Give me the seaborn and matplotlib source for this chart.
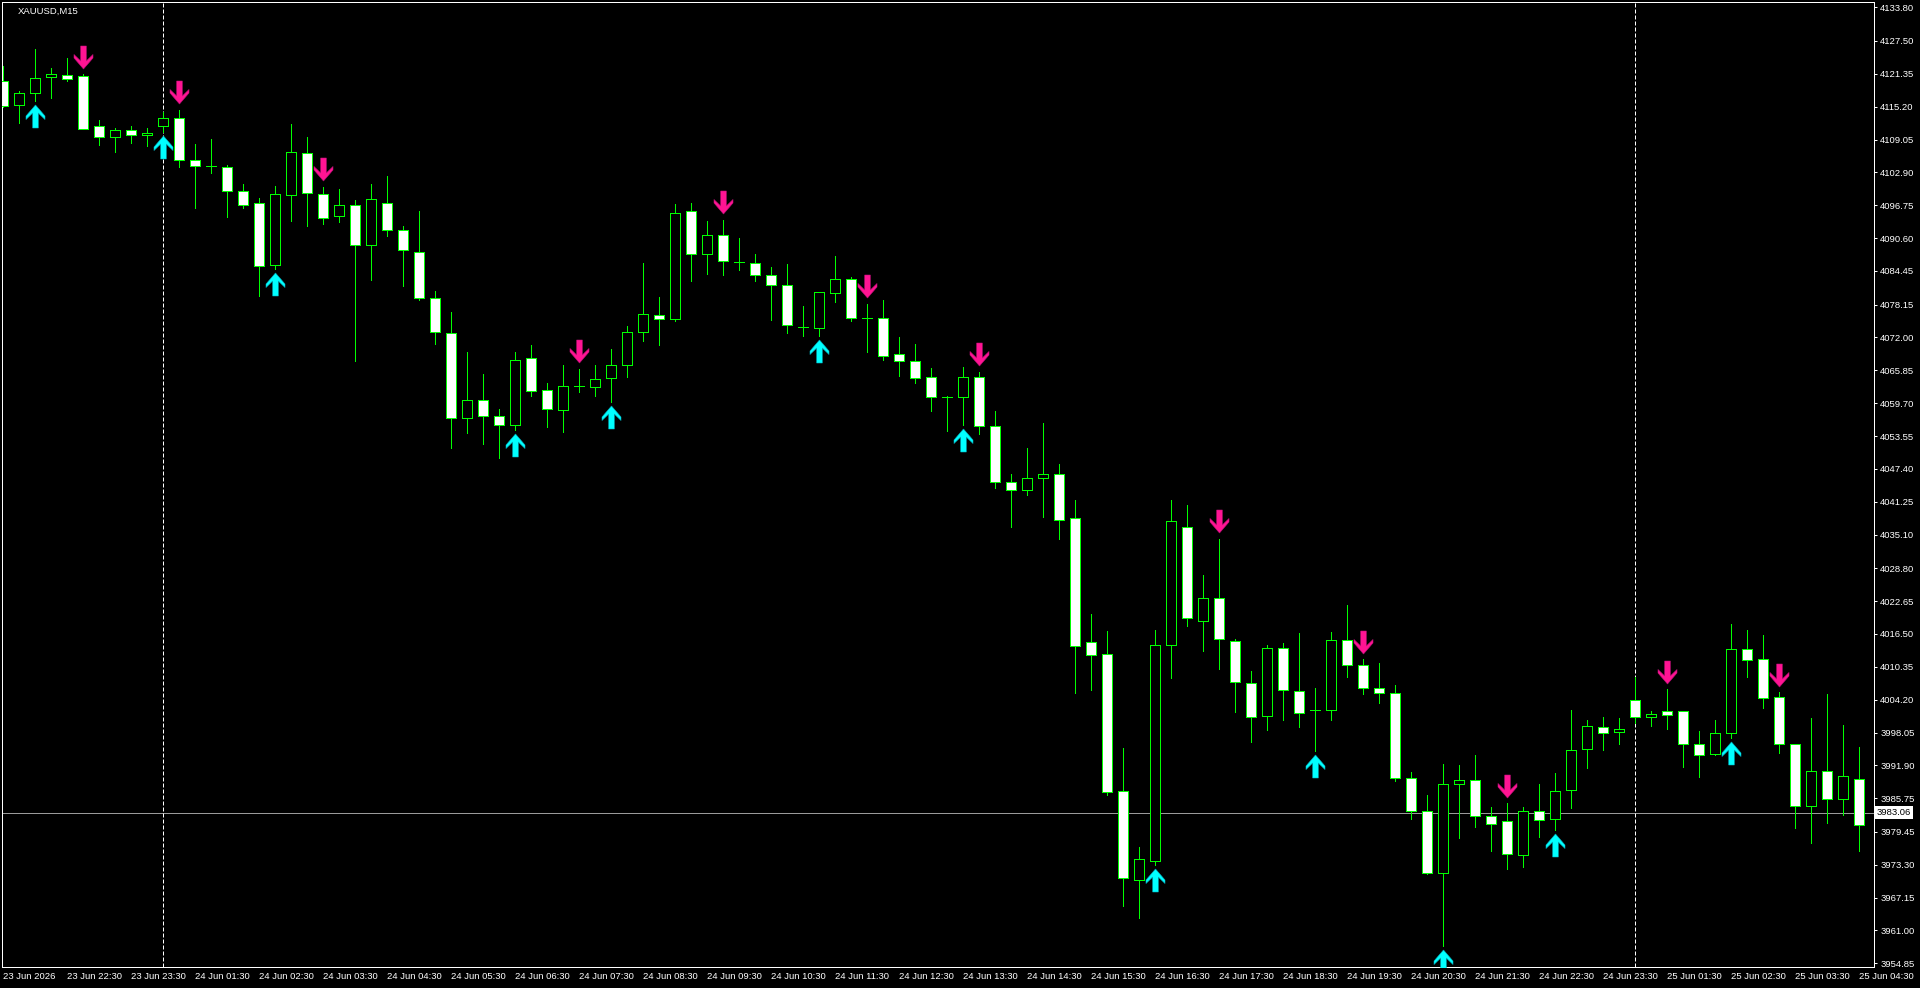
import numpy as np
import pandas as pd
import matplotlib
matplotlib.use("Agg")
import matplotlib.pyplot as plt
from matplotlib.path import Path
import seaborn as sns

SYMBOL = "XAUUSD,M15"

# M15 sessions shown (no quotes between 00:00 and 01:00)
sessions = [("2026-06-23 21:30", "2026-06-23 23:45"),
            ("2026-06-24 01:00", "2026-06-24 23:45"),
            ("2026-06-25 01:00", "2026-06-25 04:30")]

opens = [4119.99, 4115.56, 4117.81, 4120.81, 4121.18, 4121.00, 4111.56, 4109.56, 4110.87, 4109.94,
         4111.62, 4113.12, 4105.25, 4104.13, 4103.94, 4099.44, 4097.19, 4085.57, 4098.69, 4106.56,
         4098.88, 4094.76, 4096.82, 4089.33, 4097.20, 4092.14, 4088.02, 4079.39, 4072.83, 4056.91,
         4060.28, 4057.28, 4055.59, 4068.15, 4062.15, 4058.40, 4062.90, 4062.71, 4064.40, 4066.84,
         4072.96, 4076.14, 4075.45, 4095.70, 4087.64, 4091.20, 4086.07, 4085.95, 4083.70, 4081.83,
         4073.96, 4073.77, 4080.33, 4082.95, 4075.58, 4075.64, 4068.90, 4067.58, 4064.59, 4060.78,
         4060.79, 4064.54, 4055.41, 4044.85, 4043.42, 4045.67, 4046.42, 4038.17, 4014.93, 4012.68,
         3987.13, 3970.50, 3974.04, 4014.52, 4036.60, 4018.95, 4023.31, 4015.27, 4007.37, 4001.06,
         4013.80, 4005.74, 4002.24, 4002.18, 4015.30, 4010.61, 4006.30, 4005.37, 3989.62, 3983.44,
         3971.76, 3988.50, 3989.25, 3982.50, 3981.56, 3975.19, 3983.44, 3981.94, 3987.37, 3994.99,
         3998.99, 3998.24, 4004.05, 4000.87, 4001.99, 4001.99, 3995.99, 3994.06, 3997.87, 4013.61,
         4011.73, 4004.61, 3995.81, 3984.37, 3990.93, 3985.68, 3989.43]
highs = [4122.74, 4118.06, 4126.05, 4122.49, 4124.37, 4121.24, 4112.75, 4111.25, 4111.62, 4111.25,
         4114.18, 4114.62, 4108.13, 4109.06, 4104.19, 4100.63, 4098.19, 4100.44, 4111.87, 4109.44,
         4100.25, 4099.70, 4097.76, 4100.63, 4102.13, 4092.89, 4095.76, 4080.77, 4076.83, 4069.34,
         4065.21, 4058.65, 4069.34, 4070.65, 4063.46, 4066.90, 4066.15, 4066.90, 4069.84, 4074.15,
         4086.01, 4079.64, 4097.07, 4097.26, 4093.82, 4094.01, 4090.64, 4087.64, 4085.20, 4085.76,
         4077.89, 4080.52, 4087.26, 4083.33, 4078.27, 4079.02, 4072.08, 4070.77, 4066.27, 4061.00,
         4066.50, 4065.57, 4058.27, 4046.48, 4051.32, 4056.02, 4048.32, 4041.58, 4020.25, 4017.04,
         3995.10, 3976.56, 4017.25, 4041.58, 4040.62, 4027.47, 4034.29, 4015.48, 4009.62, 4014.42,
         4014.74, 4016.61, 4006.30, 4016.80, 4021.86, 4011.74, 4011.05, 4006.93, 3990.62, 3986.44,
         3992.25, 3992.06, 3993.81, 3984.06, 3984.81, 3984.06, 3988.37, 3990.44, 4002.24, 4000.37,
         4000.93, 4000.74, 4008.42, 4002.05, 4006.18, 4001.99, 3998.30, 4000.37, 4018.36, 4017.23,
         4016.30, 4005.55, 3995.81, 4000.74, 4005.18, 3999.43, 3995.31]
lows = [4115.20, 4112.12, 4116.25, 4116.81, 4119.99, 4111.00, 4108.00, 4106.69, 4108.38, 4107.81,
        4110.44, 4103.88, 4096.19, 4102.75, 4094.51, 4096.19, 4079.83, 4084.76, 4093.76, 4092.82,
        4093.26, 4093.57, 4067.52, 4082.71, 4090.95, 4081.58, 4078.96, 4070.71, 4051.22, 4054.03,
        4051.97, 4049.35, 4054.66, 4061.09, 4055.16, 4054.22, 4061.72, 4061.09, 4059.84, 4064.53,
        4071.27, 4070.52, 4075.14, 4082.51, 4083.83, 4083.64, 4084.58, 4082.51, 4075.21, 4072.77,
        4072.21, 4072.27, 4078.58, 4075.08, 4069.21, 4067.77, 4064.71, 4063.46, 4058.21, 4054.40,
        4055.68, 4053.84, 4043.89, 4036.60, 4042.60, 4038.31, 4034.35, 4005.46, 4006.00, 3986.38,
        3965.52, 3963.27, 3973.22, 4008.18, 4018.07, 4013.36, 4009.96, 4001.91, 3996.26, 3998.56,
        4000.31, 3999.12, 3994.68, 4000.43, 4008.49, 4005.30, 4003.62, 3989.06, 3981.94, 3971.57,
        3958.01, 3978.32, 3980.38, 3975.88, 3972.51, 3972.88, 3978.51, 3979.88, 3983.94, 3991.43,
        3994.81, 3995.93, 3999.87, 3999.30, 3998.74, 3991.62, 3989.75, 3993.80, 3997.06, 4008.49,
        4002.68, 3994.24, 3980.19, 3977.38, 3981.13, 3982.69, 3975.94]
closes = [4115.37, 4117.81, 4120.62, 4121.37, 4120.43, 4111.06, 4109.56, 4110.87, 4109.94, 4110.31,
          4113.12, 4105.25, 4104.13, 4104.13, 4099.44, 4096.82, 4085.39, 4098.88, 4106.75, 4099.07,
          4094.38, 4096.82, 4089.33, 4097.95, 4092.14, 4088.39, 4079.39, 4073.02, 4056.91, 4060.28,
          4057.28, 4055.59, 4067.78, 4061.96, 4058.59, 4062.90, 4062.90, 4064.21, 4066.84, 4073.02,
          4076.39, 4075.45, 4095.32, 4087.64, 4091.20, 4086.32, 4086.07, 4083.70, 4081.83, 4074.33,
          4073.96, 4080.52, 4082.95, 4075.64, 4075.58, 4068.52, 4067.58, 4064.40, 4060.84, 4060.78,
          4064.54, 4055.34, 4044.92, 4043.42, 4045.67, 4046.42, 4037.76, 4014.32, 4012.48, 3986.92,
          3970.84, 3974.38, 4014.52, 4037.56, 4019.43, 4023.31, 4015.48, 4007.43, 4001.03, 4013.80,
          4005.93, 4001.62, 4002.24, 4015.30, 4010.61, 4006.30, 4005.37, 3989.62, 3983.44, 3971.76,
          3988.50, 3989.25, 3982.50, 3981.00, 3975.38, 3983.44, 3981.75, 3987.19, 3994.87, 3999.18,
          3998.05, 3998.62, 4000.87, 4001.43, 4001.24, 3995.99, 3993.93, 3997.87, 4013.61, 4011.55,
          4004.43, 3995.81, 3984.37, 3990.93, 3985.68, 3990.00, 3980.81]

# indicator signals (bar numbers from the left)
sell_bars = [5, 11, 20, 36, 45, 54, 61, 76, 85, 94, 104, 111]
buy_bars = [2, 10, 17, 32, 38, 51, 60, 72, 82, 90, 97, 108]

price_ticks = [4133.80, 4127.50, 4121.35, 4115.20, 4109.05, 4102.90, 4096.75, 4090.60, 4084.45,
               4078.15, 4072.00, 4065.85, 4059.70, 4053.55, 4047.40, 4041.25, 4035.10, 4028.80,
               4022.65, 4016.50, 4010.35, 4004.20, 3998.05, 3991.90, 3985.75, 3979.45, 3973.30,
               3967.15, 3961.00, 3954.85]
bid_price = 3983.06

GREEN = "#00FF00"
PINK = "#FF1493"
CYAN = "#00FFFF"

times = pd.DatetimeIndex([t for s, e in sessions for t in pd.date_range(s, e, freq="15min")])
df = pd.DataFrame({"time": times, "open": opens, "high": highs, "low": lows, "close": closes})
df["bar"] = np.arange(len(df))

sns.set_style("dark", {"axes.facecolor": "black", "figure.facecolor": "black",
                       "axes.edgecolor": "white", "axes.grid": False})
plt.rcParams["font.family"] = ["Liberation Sans", "DejaVu Sans"]

W, H = 1920, 988
fig = plt.figure(figsize=(W / 100, H / 100), dpi=100)
ax = fig.add_axes([2 / W, 21 / H, 1872 / W, 965 / H])
ax.set_xlim(-0.0625, 116.94)
ax.set_ylim(3954.16, 4134.79)

# bid line
ax.axhline(bid_price, color="#9A9A9A", lw=0.72, zorder=1)

# day separators
new_day = df.time.dt.date != df.time.dt.date.shift()
for b in df.bar[new_day].iloc[1:]:
    ax.axvline(b, color="white", lw=0.72, ls=(0, (4, 2)), zorder=1)

# candles
ax.vlines(df.bar, df.low, df.high, color=GREEN, lw=0.72, zorder=2, antialiased=False)
body_bottom = np.minimum(df.open, df.close)
body_height = (df.close - df.open).abs()
fill = np.where(df.close > df.open, "black", "white")
ax.bar(df.bar, body_height, bottom=body_bottom, width=0.6, color=fill,
       edgecolor=GREEN, linewidth=0.72, zorder=3, antialiased=False)

# signal arrows
up_verts = [(0, 11.5), (9.5, 0.5), (9.5, -3.0), (2.8, 3.5), (2.8, -11.5),
            (-2.8, -11.5), (-2.8, 3.5), (-9.5, -3.0), (-9.5, 0.5), (0, 11.5)]
codes = [Path.MOVETO] + [Path.LINETO] * 8 + [Path.CLOSEPOLY]
up_arrow = Path(up_verts, codes)
down_arrow = Path([(x, -y) for x, y in up_verts], codes)

px = (ax.get_ylim()[1] - ax.get_ylim()[0]) / 965
sells = df.iloc[sell_bars]
buys = df.iloc[buy_bars]
sns.scatterplot(x=sells.bar, y=sells.high + 17.5 * px, marker=down_arrow, s=(23 * 0.72) ** 2,
                color=PINK, edgecolor="#C0107A", linewidth=0.4, zorder=4, ax=ax, legend=False)
sns.scatterplot(x=buys.bar, y=buys.low - 15 * px, marker=up_arrow, s=(23 * 0.72) ** 2,
                color=CYAN, edgecolor="#00B0C0", linewidth=0.4, zorder=4, ax=ax, legend=False)

# axes / ticks
for sp in ax.spines.values():
    sp.set_color("white")
    sp.set_linewidth(0.72)
ax.yaxis.tick_right()
ax.set_yticks(price_ticks, [f"{p:.2f}" for p in price_ticks])
ax.tick_params(axis="y", length=2.2, width=0.72, pad=2.2, colors="white", labelsize=6.8)

tick_bars = df.bar[::4]
tick_labels = [f"{t:%d %b %H:%M}" for t in df.time[::4]]
tick_labels[0] = f"{df.time.iloc[0]:%d %b %Y}"
ax.set_xticks(tick_bars, tick_labels, ha="left")
ax.tick_params(axis="x", length=2.2, width=0.72, pad=1.5, colors="white", labelsize=6.8)
ax.set_xlabel("")
ax.set_ylabel("")

ax.annotate(f"{bid_price:.2f}", xy=(1, bid_price), xycoords=("axes fraction", "data"),
            xytext=(2.2, 0), textcoords="offset points", ha="left", va="center",
            fontsize=6.8, color="black",
            bbox=dict(boxstyle="square,pad=0.2", fc="white", ec="none"), annotation_clip=False)

fig.text(18 / W, 1 - 11 / H, SYMBOL, ha="left", va="center", color="white", fontsize=6.8)

fig.savefig("out.png", dpi=100, facecolor="black")
